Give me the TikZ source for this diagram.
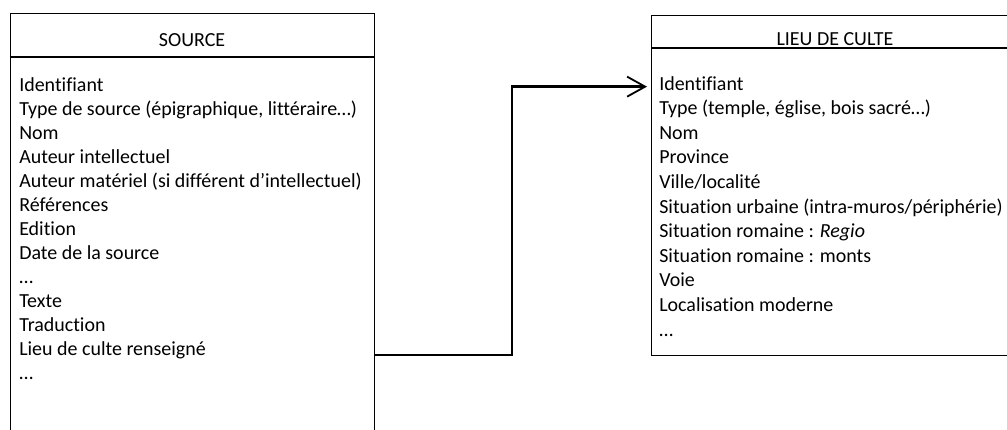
\documentclass[tikz,border=0pt]{standalone}
\usepackage{fontspec}
\setmainfont{Carlito}[Ligatures=NoCommon]
\usetikzlibrary{arrows.meta}

\begin{document}
\begin{tikzpicture}[
		entity/.style={draw, line width=0.8pt, rectangle, inner sep=0pt, anchor=north west},
		title/.style={font=\fontsize{14.2}{17}\selectfont, anchor=base, inner sep=0pt},
		attr/.style={font=\fontsize{14.2}{17}\selectfont, anchor=base west, inner sep=0pt},
		link/.style={line width=1.8pt, shorten >=0.1cm, -{Straight Barb[length=4.5mm,width=5mm,line width=1.3pt]}}
	]
		\clip (0,0) rectangle (25.175,-10.725);

		% Source table
		\node[entity, minimum width=9.1cm, minimum height=11cm] (source) at (0.25,-0.325) {};
		\draw[line width=0.8pt] (source.west |- 0,-1.425) -- (source.east |- 0,-1.425);
		\node[title] (sourcetitle) at (4.8,-1.15) {SOURCE};
		\foreach \txt [count=\i] in {Identifiant, {Type de source (épigraphique, littéraire…)}, Nom,
			Auteur intellectuel, Auteur matériel (si différent d’intellectuel), Références, Edition,
			Date de la source, …, Texte, Traduction, Lieu de culte renseigné, …}
			\node[attr] (src\i) at (0.475,{-2.275-0.6*(\i-1)}) {\txt};

		% Lieu de culte table
		\node[entity, minimum width=9.2cm, minimum height=8.5cm] (lieu) at (16.275,-0.375) {};
		\draw[line width=0.8pt] (lieu.west |- 0,-1.2) -- (lieu.east |- 0,-1.2);
		\node[title] (lieutitle) at (20.875,-1.125) {LIEU DE CULTE};
		\foreach \txt [count=\i] in {Identifiant, {Type (temple, église, bois sacré…)}, Nom, Province,
			Ville/localité, Situation urbaine (intra-muros/périphérie), Situation romaine : \textit{Regio},
			Situation romaine : monts, Voie, Localisation moderne, …}
			\node[attr] (lieu\i) at (16.475,{-2.25-0.615*(\i-1)}) {\txt};

		% Reference link
		\coordinate (bend) at (12.8,0);
		\draw[link] (source.east |- src12.base) -| (bend |- lieu1.mid) -- (lieu.west |- lieu1.mid);
	\end{tikzpicture}
\end{document}
